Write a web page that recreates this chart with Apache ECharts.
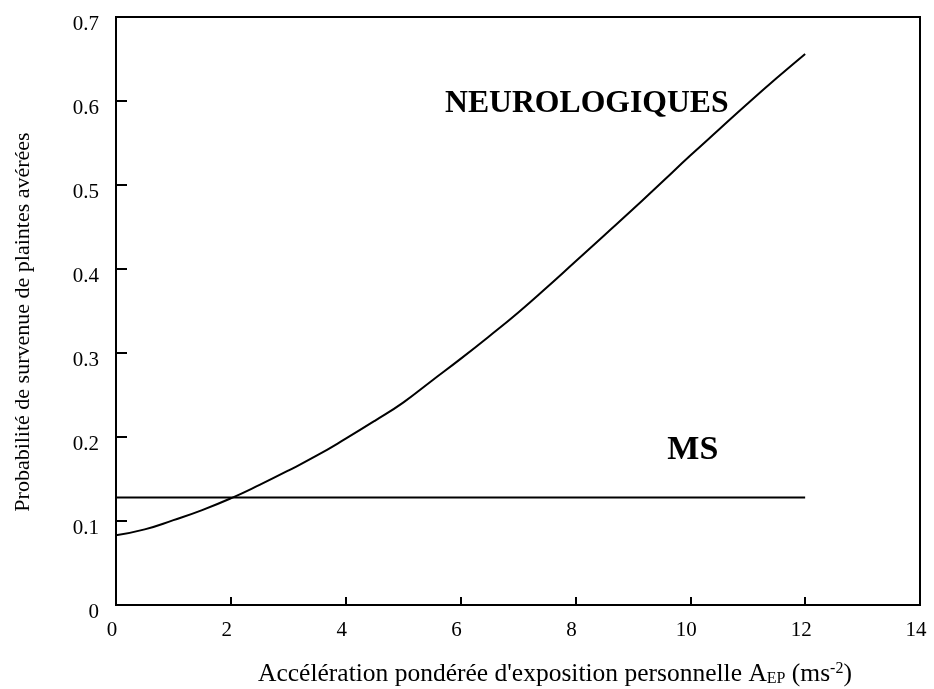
<!DOCTYPE html>
<html>
<head>
<meta charset="utf-8">
<script src="https://cdn.jsdelivr.net/npm/echarts@6/dist/echarts.min.js"></script>
<style>
  html, body { margin: 0; padding: 0; background: #fff; }
  #chart { width: 934px; height: 689px; }
</style>
</head>
<body>
<div id="chart"></div>
<script>
// Exposure acceleration A_EP (m/s²)
const accel = [0, 0.5, 1, 1.5, 2, 2.5, 3, 3.5, 4, 4.5, 5, 5.5, 6, 6.5, 7, 7.5, 8, 8.5, 9, 9.5, 10, 10.5, 11, 11.5, 12];
// Probability of confirmed neurological complaints
const neuroProb = [0.083, 0.090, 0.101, 0.113, 0.127, 0.143, 0.160, 0.178, 0.198, 0.219, 0.241, 0.267, 0.293, 0.320, 0.348, 0.378, 0.409, 0.440, 0.471, 0.503, 0.535, 0.566, 0.597, 0.627, 0.656];
// Constant level for the MS curve
const msRange = [0, 12];
const msProb = [0.128, 0.128];
// Axis ticks
const xTicks = [0, 14, 2];
const yTicks = [0, 0.7, 0.1];

const FONT = '"Liberation Serif", "Times New Roman", serif';

const chart = echarts.init(document.getElementById('chart'), null, { renderer: 'canvas' });

const neuroData = accel.map((x, i) => [x, neuroProb[i]]);
const msData = msRange.map((x, i) => [x, msProb[i]]);

chart.setOption({
  animation: false,
  backgroundColor: '#fff',
  grid: {
    left: 116, right: 14, top: 17, bottom: 84,
    outerBoundsMode: 'none',
    show: true, borderColor: '#000', borderWidth: 2
  },
  xAxis: {
    type: 'value',
    min: xTicks[0], max: xTicks[1], interval: xTicks[2],
    axisLine: { show: true, onZero: false, lineStyle: { color: '#000', width: 2 } },
    axisTick: { show: true, inside: true, length: 8, lineStyle: { color: '#000', width: 2 } },
    splitLine: { show: false },
    axisLabel: { color: '#000', fontFamily: FONT, fontSize: 21, margin: 15, padding: [0, 8, 0, 0] },
    name: "Accélération pondérée d'exposition personnelle A{sub|EP} (ms{sup|-2})",
    nameLocation: 'middle',
    nameMoveOverlap: false,
    nameGap: 56,
    nameTextStyle: {
      color: '#000', fontFamily: FONT, fontSize: 25.5, lineHeight: 26,
      padding: [0, 0, 0, 74],
      rich: {
        sub: { fontFamily: FONT, fontSize: 16, color: '#000', verticalAlign: 'bottom', lineHeight: 26 },
        sup: { fontFamily: FONT, fontSize: 16, color: '#000', verticalAlign: 'top', lineHeight: 26 }
      }
    }
  },
  yAxis: {
    type: 'value',
    min: yTicks[0], max: yTicks[1], interval: yTicks[2],
    axisLine: { show: true, onZero: false, lineStyle: { color: '#000', width: 2 } },
    axisTick: { show: true, inside: true, length: 11, lineStyle: { color: '#000', width: 2 } },
    splitLine: { show: false },
    axisLabel: { color: '#000', fontFamily: FONT, fontSize: 21, margin: 17, verticalAlign: 'top', lineHeight: 14 },
    name: 'Probabilité de survenue de plaintes avérées',
    nameLocation: 'middle',
    nameRotate: 90,
    nameGap: 82,
    nameTextStyle: { color: '#000', fontFamily: FONT, fontSize: 22, padding: [0, 22, 0, 0] }
  },
  series: [
    {
      name: 'NEUROLOGIQUES',
      type: 'line',
      data: neuroData,
      smooth: 0.5,
      symbol: 'none',
      lineStyle: { color: '#000', width: 2 }
    },
    {
      name: 'MS',
      type: 'line',
      data: msData,
      symbol: 'none',
      lineStyle: { color: '#000', width: 2 }
    }
  ]
});

// Curve labels placed in data coordinates
function placeLabels() {
  const neuroPos = chart.convertToPixel({ gridIndex: 0 }, [5.73, 0.597]);
  const msPos = chart.convertToPixel({ gridIndex: 0 }, [9.6, 0.184]);
  chart.setOption({
    graphic: [
      {
        type: 'text', x: neuroPos[0], y: neuroPos[1],
        style: { text: 'NEUROLOGIQUES', font: 'bold 31.7px ' + FONT, fill: '#000', align: 'left', verticalAlign: 'middle' }
      },
      {
        type: 'text', x: msPos[0], y: msPos[1],
        style: { text: 'MS', font: 'bold 34px ' + FONT, fill: '#000', align: 'left', verticalAlign: 'middle' }
      }
    ]
  });
}
placeLabels();
</script>
</body>
</html>
